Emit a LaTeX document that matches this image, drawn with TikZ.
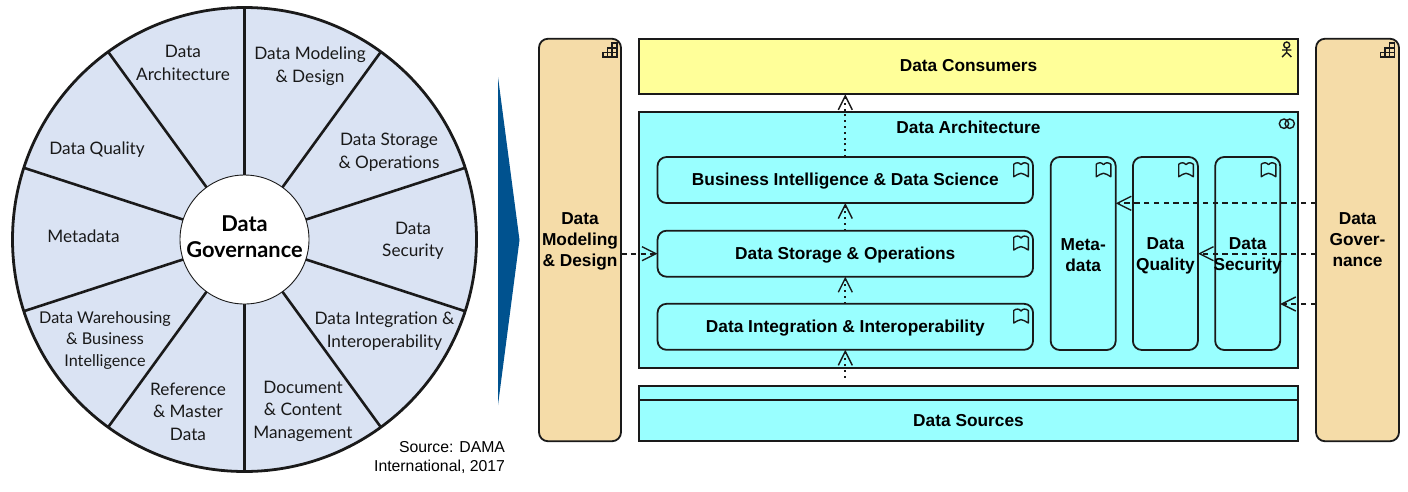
\documentclass[tikz,border=0pt]{standalone}
\usepackage{fontspec}
\setmainfont{Liberation Sans}
\newfontfamily\wheelfont{Lato}
\usetikzlibrary{arrows.meta}
\definecolor{wheelfill}{HTML}{DAE3F3}
\definecolor{cyanfill}{HTML}{99FFFF}
\definecolor{yellowfill}{HTML}{FFFF99}
\definecolor{tanfill}{HTML}{F5DCA8}
\definecolor{bluewedge}{HTML}{00528F}
\definecolor{inkline}{HTML}{1A1A1A}
\newcommand\vb[1]{\rule[\dimexpr #1pt*2-16pt\relax]{0pt}{\dimexpr 32pt-#1pt*2\relax}}
\tikzset{
  x=1pt,y=-1pt,
  boxbase/.style={draw=inkline,line width=1.8pt,inner sep=0pt,outer sep=0pt,align=center,
    font=\fontsize{17.3}{21}\selectfont\bfseries},
  cyanrect/.style={boxbase,fill=cyanfill},
  yellowrect/.style={boxbase,fill=yellowfill},
  tanbox/.style={boxbase,fill=tanfill,rounded corners=9pt},
  func/.style={boxbase,fill=cyanfill,rounded corners=9pt},
  plainlabel/.style={inner sep=0pt,outer sep=0pt,align=center,font=\fontsize{17.3}{21}\selectfont\bfseries},
  wheellabel/.style={inner sep=0pt,outer sep=0pt,align=center,font=\wheelfont\fontsize{17.2}{22.3}\selectfont,text=black!90},
  hublabel/.style={inner sep=0pt,outer sep=0pt,align=center,font=\wheelfont\fontsize{21.8}{26}\selectfont\bfseries},
  sourcelabel/.style={inner sep=0pt,outer sep=0pt,align=right,font=\fontsize{15.8}{19.5}\selectfont},
  spoke/.style={line width=2.6pt,draw=inkline},
  dashconn/.style={draw=inkline,line width=1.7pt,dash pattern=on 5.5pt off 4.3pt,
     -{Straight Barb[length=14pt,width=14pt,line width=1.4pt]}},
  dotconn/.style={draw=inkline,line width=1.8pt,dash pattern=on 2pt off 3.8pt,
     -{Straight Barb[length=14pt,width=14pt,line width=1.4pt]}},
  capicon/.pic={
    \draw[inkline,line width=1.5pt]
      (-7,7) rectangle (-2.3,2.3) (-2.3,7) rectangle (2.3,2.3) (2.3,7) rectangle (7,2.3)
      (-2.3,2.3) rectangle (2.3,-2.3) (2.3,2.3) rectangle (7,-2.3)
      (2.3,-2.3) rectangle (7,-7);
  },
  bookicon/.pic={
    \draw[inkline,line width=1.4pt,line join=round]
      (-7.3,7) -- (-7.3,-5.5) .. controls (-4.5,-7.5) and (-2,-7.5) .. (0,-5)
      .. controls (2,-7.5) and (4.5,-7.5) .. (7.3,-5.5) -- (7.3,7)
      .. controls (4.5,5) and (2,4) .. (0,3.6)
      .. controls (-2,4) and (-4.5,5) .. (-7.3,7) -- cycle;
  },
}
\begin{document}
\begin{tikzpicture}
\useasboundingbox (0,0) rectangle (1408,491);
% ---------- wheel
\coordinate (hub) at (244.5,239.5);
\fill[wheelfill] (hub) circle[radius=232];
\foreach \a in {18,54,...,342}{
  \draw[spoke] (hub) ++(\a:64) -- ++(\a:168);
}
\draw[inkline,line width=2.8pt] (hub) circle[radius=232];
\node[circle,fill=white,draw=inkline,line width=0.9pt,minimum size=129pt,inner sep=0pt] (hubdisc) at (hub) {};
\node[hublabel] (hubtext) at (244.5,237) {Data\\Governance};
\node[wheellabel] (w1) at (183,64.5) {\strut Data\\\strut Architecture};
\node[wheellabel] (w2) at (310,66.5) {\strut Data Modeling\\\strut \& Design};
\node[wheellabel] (w3) at (389,152.5) {\strut Data Storage\\\strut \& Operations};
\node[wheellabel] (w4) at (413,241) {\strut Data\\\strut Security};
\node[wheellabel] (w5) at (384.5,331.5) {\strut Data Integration \&\\\strut Interoperability};
\node[wheellabel] (w6) at (303,411.5) {\strut Document\\\strut \& Content\\\strut Management};
\node[wheellabel] (w7) at (188,413.5) {\strut Reference\\\strut \& Master\\\strut Data};
\node[wheellabel,font=\wheelfont\fontsize{16.2}{21.5}\selectfont] (w8) at (105,340.5) {\strut Data Warehousing\\\strut \& Business\\\strut Intelligence};
\node[wheellabel] (w9) at (83.5,238) {\strut Metadata};
\node[wheellabel] (w10) at (97,150) {\strut Data Quality};
\node[sourcelabel,anchor=east] (src) at (505,458) {\strut Source: DAMA\\\strut International, 2017};
% ---------- wedge
\fill[bluewedge] (498,77) -- (519.5,240) -- (498,405) -- cycle;
% ---------- boxes
\node[tanbox,minimum width=82pt,minimum height=402.5pt] (dmd) at (580,240) {\rule{0pt}{14.4pt}Data\\Modeling\\\& Design};
\node[tanbox,minimum width=83pt,minimum height=402.5pt] (gov) at (1357.5,240) {Data\\Gover-\\nance};
\node[yellowrect,minimum width=659pt,minimum height=55.5pt] (cons) at (968.5,66.5) {\vb{4.5}Data Consumers};
\node[cyanrect,minimum width=659pt,minimum height=256pt] (arch) at (968.5,240) {};
\node[plainlabel] (archtext) at (968.5,127.5) {Data Architecture};
\node[cyanrect,minimum width=659pt,minimum height=55.5pt] (srcbox) at (968.5,413.5) {};
\node[plainlabel] (srctext) at (968.5,420.5) {Data Sources};
\draw[inkline,line width=1.4pt] (srcbox.west |- 0,400) -- (srcbox.east |- 0,400);
\node[func,minimum width=375.5pt,minimum height=46pt] (bi) at (845.3,180) {\vb{5.8}Business Intelligence \& Data Science};
\node[func,minimum width=375.5pt,minimum height=46pt] (ds) at (845.3,253.7) {\vb{5.6}Data Storage \& Operations};
\node[func,minimum width=375.5pt,minimum height=46pt] (di) at (845.3,326.8) {\vb{5.3}Data Integration \& Interoperability};
\node[func,minimum width=65pt,minimum height=193pt] (meta) at (1083.2,253.5) {\rule{0pt}{14.4pt}Meta-\\data};
\node[func,minimum width=65pt,minimum height=193pt] (qual) at (1165.4,253.5) {\rule{0pt}{16.4pt}Data\\\makebox[0pt]{Quality}};
\node[func,minimum width=65pt,minimum height=193pt] (secu) at (1247.7,253.5) {\rule{0pt}{16.4pt}Data\\\makebox[0pt]{Security}};
% ---------- icons
\pic at (609.8,50.2) {capicon};
\pic at (1387.3,50.2) {capicon};
\pic at (1021,169.7) {bookicon};
\pic at (1021,243) {bookicon};
\pic at (1021,316) {bookicon};
\pic at (1103.5,169.7) {bookicon};
\pic at (1186,169.7) {bookicon};
\pic at (1268.5,169.7) {bookicon};
\begin{scope}[inkline,line width=1.4pt]
  \draw (1286.7,45) circle[radius=3];
  \draw (1286.7,48) -- (1286.7,52.5) (1282,50) -- (1291.4,50) (1282,57) -- (1286.7,52.5) -- (1291.4,57);
  \draw (1284,123.7) circle[radius=4.7] (1289.7,123.7) circle[radius=4.7];
\end{scope}
% ---------- connectors
\coordinate (g1) at (0,203.3);
\coordinate (g2) at (0,253.7);
\coordinate (g3) at (0,304);
\draw[dashconn] (g1 -| gov.west) -- (g1 -| meta.east);
\draw[dashconn] (g2 -| gov.west) -- (g2 -| qual.east);
\draw[dashconn] (g3 -| gov.west) -- (g3 -| secu.east);
\draw[dashconn] (dmd.east |- ds.west) -- (ds.west);
\draw[dotconn] (bi.north) -- (bi.north |- cons.south);
\draw[dotconn] (ds.north) -- (bi.south);
\draw[dotconn] (di.north) -- (ds.south);
\coordinate (srcstart) at (845.3,377.5);
\draw[dotconn] (srcstart) -- (di.south);
\end{tikzpicture}
\end{document}
